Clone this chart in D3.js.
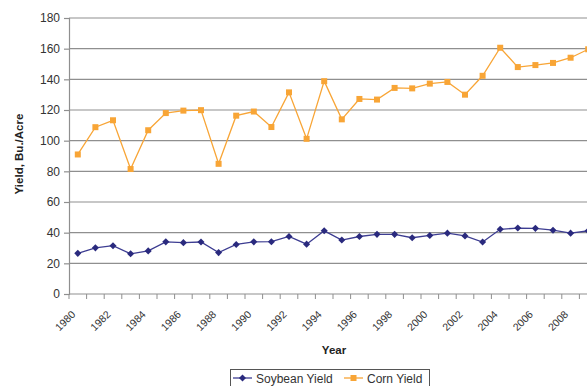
<!DOCTYPE html>
<html>
<head>
<meta charset="utf-8">
<script src="https://cdn.jsdelivr.net/npm/d3@7"></script>
<style>
  body { margin: 0; background: #fff; }
  svg { font-family: "Liberation Sans", Arial, sans-serif; }
</style>
</head>
<body>
<svg id="chart" width="587" height="386"></svg>
<script>
// data
const years = d3.range(1980, 2010)
const soybean = [26.5, 30.1, 31.5, 26.2, 28.1, 34.0, 33.5, 33.9, 27.0, 32.3,
                 34.0, 34.1, 37.5, 32.5, 41.2, 35.2, 37.5, 38.9, 38.9, 36.7,
                 38.2, 39.7, 37.9, 33.9, 42.2, 43.0, 42.8, 41.6, 39.7, 41.2]
const corn = [91.0, 108.8, 113.3, 81.5, 106.8, 118.0, 119.6, 119.9, 84.9, 116.3,
              119.0, 108.9, 131.5, 101.2, 138.8, 113.9, 127.2, 126.8, 134.4, 134.1,
              137.2, 138.3, 130.0, 142.3, 160.6, 148.0, 149.3, 150.7, 154.1, 159.6]
const yTicks = d3.range(0, 181, 20)

const svg = d3.select('#chart')
const plotLeft = 69, plotTop = 18, plotBottom = 294
const bandW = 17.6

let x = d3.scaleBand().domain(years).range([plotLeft, plotLeft + bandW * years.length]).padding(0)
let y = d3.scaleLinear().domain([0, 180]).range([plotBottom, plotTop])
let cx = (d) => x(d) + x.bandwidth() / 2

// gridlines
svg.append('g')
  .selectAll('line')
  .data(yTicks.filter(d => d > 0))
  .enter()
  .append('line')
  .attr('x1', plotLeft).attr('x2', 600)
  .attr('y1', d => y(d)).attr('y2', d => y(d))
  .attr('stroke', '#8f8f8f')
  .attr('stroke-width', 1.2)

// y axis
const yAxis = svg.append('g')
  .attr('transform', `translate(${plotLeft},0)`)
  .call(d3.axisLeft(y).tickValues(yTicks).tickSize(5).tickPadding(4))
yAxis.selectAll('path, line').attr('stroke', '#8f8f8f').attr('stroke-width', 1.2)
yAxis.selectAll('text').attr('font-size', '12px').attr('fill', '#333')
yAxis.attr('font-family', null)

// x axis line + ticks on the band edges
svg.append('line')
  .attr('x1', plotLeft).attr('x2', 600)
  .attr('y1', plotBottom).attr('y2', plotBottom)
  .attr('stroke', '#8f8f8f')
  .attr('stroke-width', 1.2)

svg.append('g')
  .selectAll('line')
  .data(years)
  .enter()
  .append('line')
  .attr('x1', d => x(d)).attr('x2', d => x(d))
  .attr('y1', plotBottom).attr('y2', plotBottom + 5)
  .attr('stroke', '#8f8f8f')

// x labels every second year
svg.append('g')
  .selectAll('text')
  .data(years.filter(d => d % 2 === 0))
  .enter()
  .append('text')
  .attr('transform', d => `translate(${cx(d) - 1.7},${plotBottom + 21}) rotate(-45)`)
  .attr('text-anchor', 'end')
  .attr('font-size', '10.5px')
  .attr('fill', '#333')
  .text(d => d)

// axis titles
svg.append('text')
  .attr('x', 334).attr('y', 354)
  .attr('text-anchor', 'middle')
  .attr('font-size', '11.5px')
  .attr('font-weight', 'bold')
  .attr('fill', '#222')
  .text('Year')

svg.append('text')
  .attr('transform', 'translate(23,154) rotate(-90)')
  .attr('text-anchor', 'middle')
  .attr('font-size', '11.5px')
  .attr('font-weight', 'bold')
  .attr('fill', '#222')
  .text('Yield, Bu./Acre')

// series
const soyColor = '#2a2a7e', cornColor = '#f8a536'
const line = d3.line().x((d, i) => cx(years[i])).y(d => y(d))

svg.append('path')
  .datum(corn)
  .attr('d', line)
  .attr('fill', 'none')
  .attr('stroke', cornColor)
  .attr('stroke-width', 1.3)

svg.append('g')
  .selectAll('rect')
  .data(corn)
  .enter()
  .append('rect')
  .attr('x', (d, i) => cx(years[i]) - 3)
  .attr('y', d => y(d) - 3)
  .attr('width', 6).attr('height', 6)
  .attr('fill', cornColor)

svg.append('path')
  .datum(soybean)
  .attr('d', line)
  .attr('fill', 'none')
  .attr('stroke', '#3d3d92')
  .attr('stroke-width', 1.3)

const diamond = d3.symbol().type(d3.symbolDiamond2).size(32)
svg.append('g')
  .selectAll('path')
  .data(soybean)
  .enter()
  .append('path')
  .attr('d', diamond)
  .attr('transform', (d, i) => `translate(${cx(years[i])},${y(d)})`)
  .attr('fill', soyColor)

// legend
const lg = svg.append('g')
lg.append('rect')
  .attr('x', 230.5).attr('y', 369.5)
  .attr('width', 199).attr('height', 18)
  .attr('fill', '#fff')
  .attr('stroke', '#555')
lg.append('line').attr('x1', 233).attr('x2', 252).attr('y1', 378).attr('y2', 378)
  .attr('stroke', '#3d3d92').attr('stroke-width', 1.3)
lg.append('path').attr('d', diamond).attr('transform', 'translate(242.5,378)').attr('fill', soyColor)
lg.append('text').attr('x', 256).attr('y', 382.5).attr('font-size', '12px').attr('fill', '#333').text('Soybean Yield')
lg.append('line').attr('x1', 344).attr('x2', 363).attr('y1', 378).attr('y2', 378)
  .attr('stroke', cornColor).attr('stroke-width', 1.3)
lg.append('rect').attr('x', 350.5).attr('y', 375).attr('width', 6).attr('height', 6).attr('fill', cornColor)
lg.append('text').attr('x', 367).attr('y', 382.5).attr('font-size', '12px').attr('fill', '#333').text('Corn Yield')
</script>
</body>
</html>
